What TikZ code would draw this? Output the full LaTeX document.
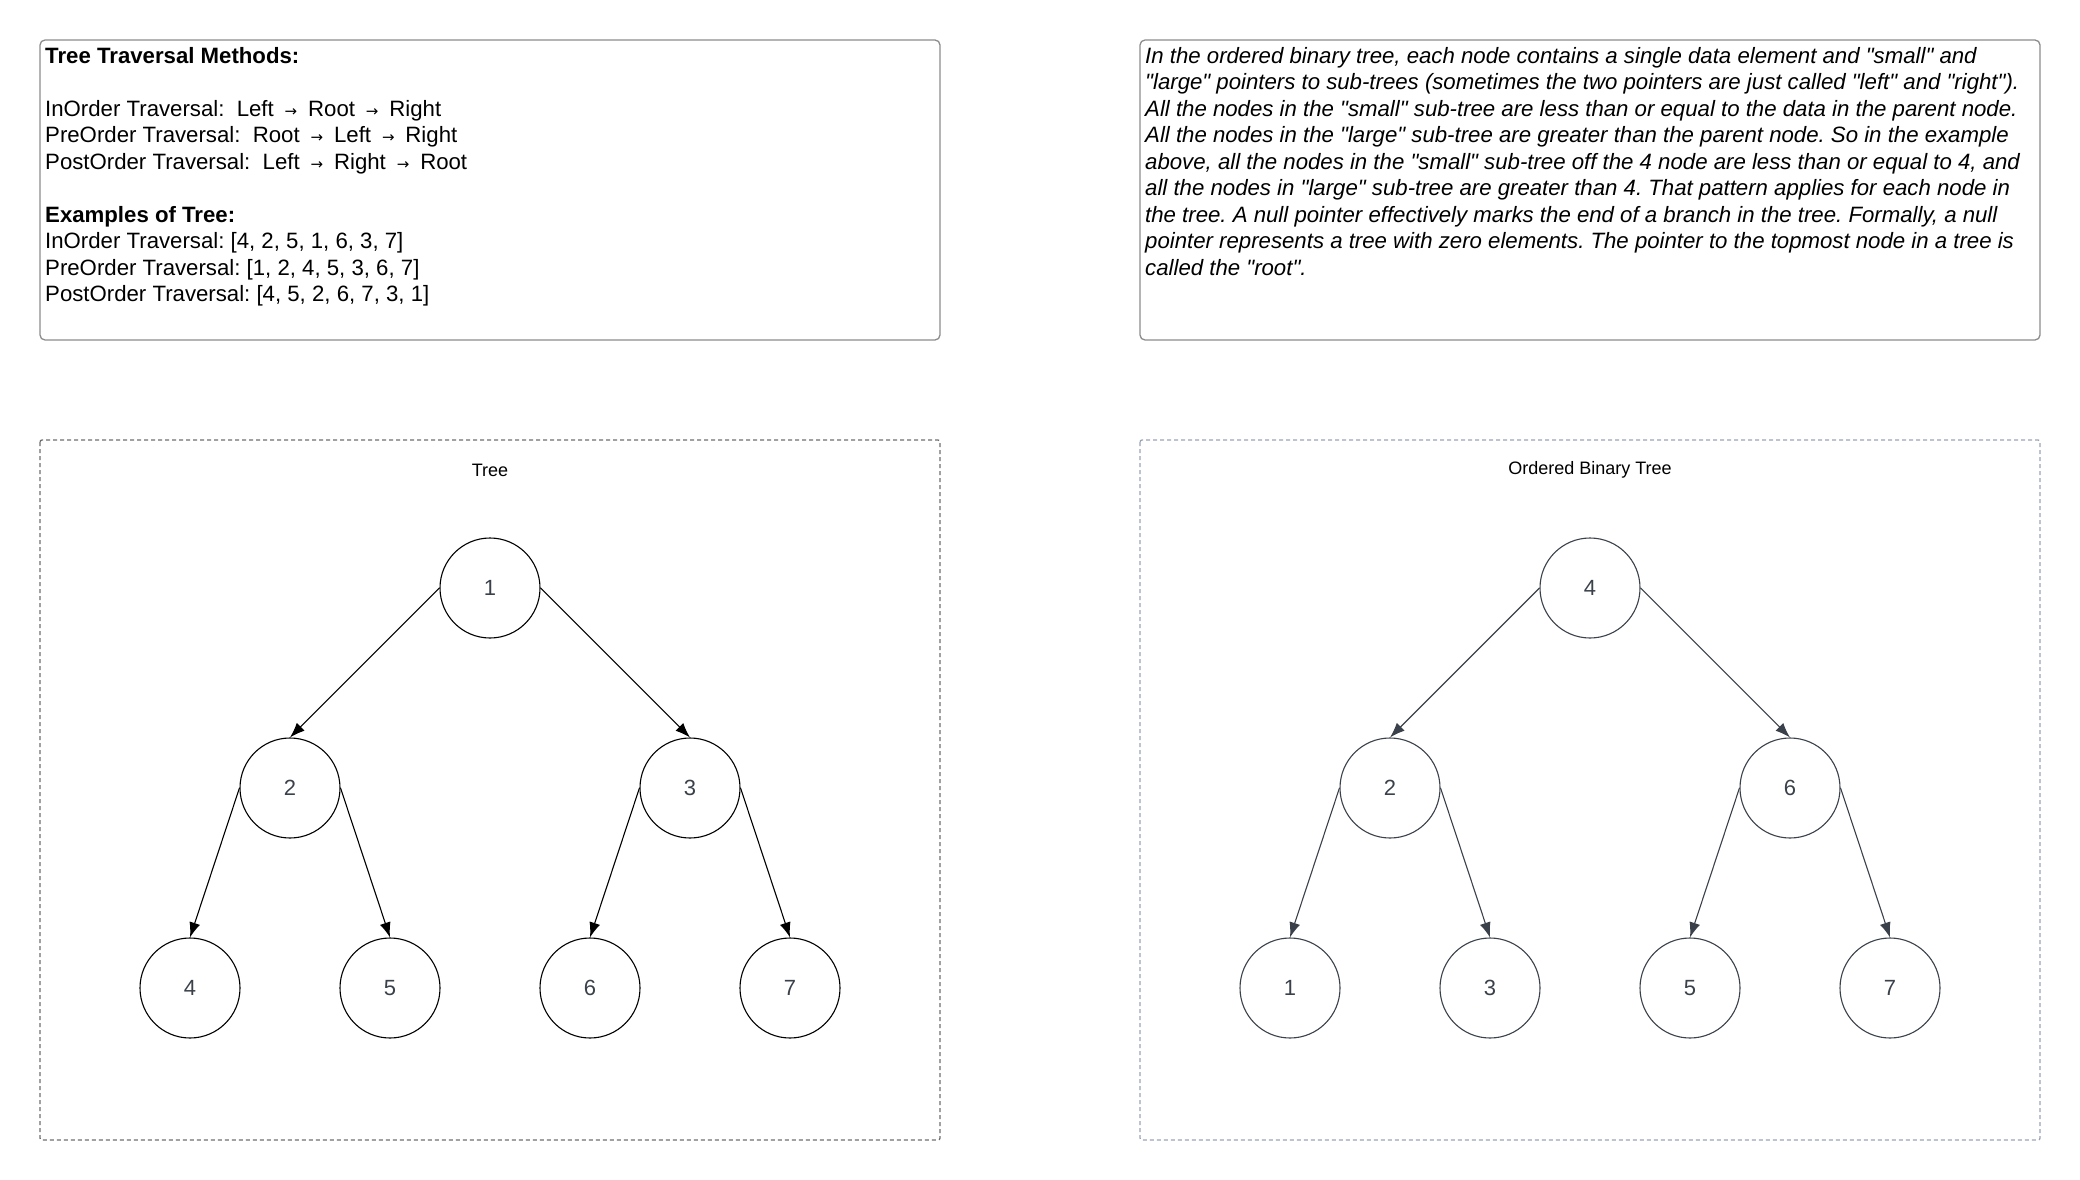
\documentclass[tikz,border=0pt]{standalone}
\usepackage{fontspec}
\setmainfont{Liberation Sans}[Ligatures=TeXOff]
\newfontfamily\arrowfont{DejaVu Sans}
\usetikzlibrary{arrows.meta}
\definecolor{slate}{HTML}{3A414A}
\definecolor{boxgray}{HTML}{8C8C8C}
\definecolor{dashgray}{HTML}{6E6E6E}
\definecolor{dashblue}{HTML}{9AA4B6}
\newcommand{\tto}{\makebox[22pt]{\arrowfont\fontsize{15}{15}\selectfont →}}
\frenchspacing

\begin{document}
\begin{tikzpicture}[x=1pt,y=-1pt,
     note/.style = {draw=boxgray, line width=1.3pt, rounded corners=5pt},
     frame/.style = {dash pattern=on 4pt off 3pt, line width=1.3pt, rounded corners=2pt},
     body/.style = {anchor=north west, align=left, inner sep=0pt,
      font=\fontsize{22.2}{26.5}\selectfont},
     title/.style = {font=\fontsize{18}{18}\selectfont},
     vertex/.style = {draw, circle, minimum size=100pt, inner sep=0pt, line width=1.1pt,
      font=\fontsize{22}{22}\selectfont, text=slate},
     arrow/.style={draw, line width=1.1pt, -{Latex[length=15pt,width=11pt]}}
    ]
    \useasboundingbox (0,0) rectangle (2080,1180);

    % text boxes
    \draw[note] (40,40) rectangle (940,340);
    \draw[note] (1140,40) rectangle (2040,340);
    \node [body] (methods) at (45,47) {\textbf{Tree Traversal Methods:}\\[26.5pt]
      InOrder Traversal:\ \ Left \tto{} Root \tto{} Right\\
      PreOrder Traversal:\ \ Root \tto{} Left \tto{} Right\\
      PostOrder Traversal:\ \ Left \tto{} Right \tto{} Root\\[26.5pt]
      \textbf{Examples of Tree:}\\
      InOrder Traversal: [4, 2, 5, 1, 6, 3, 7]\\
      PreOrder Traversal: [1, 2, 4, 5, 3, 6, 7]\\
      PostOrder Traversal: [4, 5, 2, 6, 7, 3, 1]};
    \node [body, font=\fontsize{22.2}{26.5}\selectfont\itshape] (about) at (1145,47) {In the ordered binary tree, each node contains a single data element and "small" and\\
      "large" pointers to sub-trees (sometimes the two pointers are just called "left" and "right").\\
      All the nodes in the "small" sub-tree are less than or equal to the data in the parent node.\\
      All the nodes in the "large" sub-tree are greater than the parent node. So in the example\\
      above, all the nodes in the "small" sub-tree off the 4 node are less than or equal to 4, and\\
      all the nodes in "large" sub-tree are greater than 4. That pattern applies for each node in\\
      the tree. A null pointer effectively marks the end of a branch in the tree. Formally, a null\\
      pointer represents a tree with zero elements. The pointer to the topmost node in a tree is\\
      called the "root".};

    % plain tree
    \draw[frame, draw=dashgray] (40,440) rectangle (940,1140);
    \node [title] (treetitle) at (490,470) {Tree};
    \node [vertex] (t1) at (490,588) {1};
    \node [vertex] (t2) at (290,788) {2};
    \node [vertex] (t3) at (690,788) {3};
    \node [vertex] (t4) at (190,988) {4};
    \node [vertex] (t5) at (390,988) {5};
    \node [vertex] (t6) at (590,988) {6};
    \node [vertex] (t7) at (790,988) {7};
    \draw[arrow] (t1.west) -- (t2.north);
    \draw[arrow] (t1.east) -- (t3.north);
    \draw[arrow] (t2.west) -- (t4.north);
    \draw[arrow] (t2.east) -- (t5.north);
    \draw[arrow] (t3.west) -- (t6.north);
    \draw[arrow] (t3.east) -- (t7.north);

    % ordered binary tree
    \draw[frame, draw=dashblue] (1140,440) rectangle (2040,1140);
    \node [title] (bsttitle) at (1590,470) {Ordered Binary Tree};
    \node [vertex, draw=slate] (b4) at (1590,588) {4};
    \node [vertex, draw=slate] (b2) at (1390,788) {2};
    \node [vertex, draw=slate] (b6) at (1790,788) {6};
    \node [vertex, draw=slate] (b1) at (1290,988) {1};
    \node [vertex, draw=slate] (b3) at (1490,988) {3};
    \node [vertex, draw=slate] (b5) at (1690,988) {5};
    \node [vertex, draw=slate] (b7) at (1890,988) {7};
    \draw[arrow, slate] (b4.west) -- (b2.north);
    \draw[arrow, slate] (b4.east) -- (b6.north);
    \draw[arrow, slate] (b2.west) -- (b1.north);
    \draw[arrow, slate] (b2.east) -- (b3.north);
    \draw[arrow, slate] (b6.west) -- (b5.north);
    \draw[arrow, slate] (b6.east) -- (b7.north);

\end{tikzpicture}
\end{document}
